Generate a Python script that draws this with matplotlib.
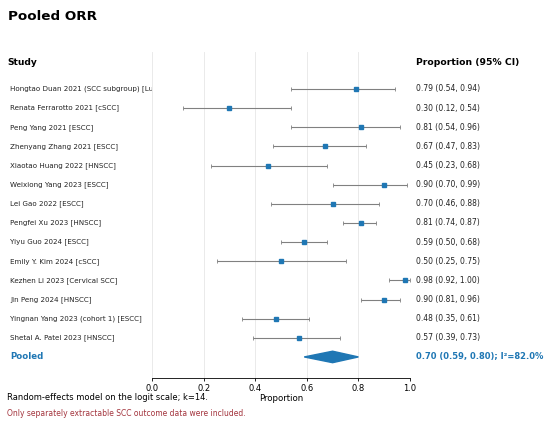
import matplotlib
matplotlib.use("Agg")
from matplotlib import pyplot as plt
from matplotlib.patches import Polygon

# study data
studies = [
    "Hongtao Duan 2021 (SCC subgroup) [Lung SCC]",
    "Renata Ferrarotto 2021 [cSCC]",
    "Peng Yang 2021 [ESCC]",
    "Zhenyang Zhang 2021 [ESCC]",
    "Xiaotao Huang 2022 [HNSCC]",
    "Weixiong Yang 2023 [ESCC]",
    "Lei Gao 2022 [ESCC]",
    "Pengfei Xu 2023 [HNSCC]",
    "Yiyu Guo 2024 [ESCC]",
    "Emily Y. Kim 2024 [cSCC]",
    "Kezhen Li 2023 [Cervical SCC]",
    "Jin Peng 2024 [HNSCC]",
    "Yingnan Yang 2023 (cohort 1) [ESCC]",
    "Shetal A. Patel 2023 [HNSCC]",
]
est = [0.79, 0.30, 0.81, 0.67, 0.45, 0.90, 0.70, 0.81, 0.59, 0.50, 0.98, 0.90, 0.48, 0.57]
lo = [0.54, 0.12, 0.54, 0.47, 0.23, 0.70, 0.46, 0.74, 0.50, 0.25, 0.92, 0.81, 0.35, 0.39]
hi = [0.94, 0.54, 0.96, 0.83, 0.68, 0.99, 0.88, 0.87, 0.68, 0.75, 1.00, 0.96, 0.61, 0.73]

pooled_est, pooled_lo, pooled_hi = 0.70, 0.59, 0.80
i2 = 82.0

blue = "#1f77b4"
W, H = 550, 426
fig = plt.figure(figsize=(5.5, 4.26), dpi=100)

ax_l, ax_r = 152 / W, 410 / W
ax_top, ax_bot = 1 - 52 / H, 1 - 378 / H
ax = fig.add_axes([ax_l, ax_bot, ax_r - ax_l, ax_top - ax_bot])
lab = fig.add_axes([0, ax_bot, ax_l, ax_top - ax_bot], sharey=ax)
lab.axis("off")

n = len(studies)
rows = list(range(n))
ax.set_ylim(15.1, -1.93)

# study rows
for i in rows:
    ax.errorbar(est[i], i, xerr=[[est[i] - lo[i]], [hi[i] - est[i]]],
                fmt="s", color=blue, ms=3.3, ecolor="#808080", elinewidth=0.8,
                capsize=1.5, capthick=0.6, zorder=3)
    lab.text(10 / 152, i, studies[i], va="center", ha="left", fontsize=5.1,
             color="#222222", clip_on=True)

# pooled diamond
py = n
d = 0.3
ax.add_patch(Polygon([[pooled_lo, py], [pooled_est, py - d], [pooled_hi, py], [pooled_est, py + d]],
                     closed=True, color=blue, zorder=3))

ax.set_xlim(0, 1)
ax.set_xticks([0.0, 0.2, 0.4, 0.6, 0.8, 1.0])
ax.tick_params(axis="x", labelsize=6, length=2, width=0.6, pad=2)
ax.set_yticks([])
ax.grid(axis="x", color="#e6e6e6", linewidth=0.6, zorder=0)
for s in ["top", "right", "left"]:
    ax.spines[s].set_visible(False)
ax.spines["bottom"].set_linewidth(0.6)
ax.set_xlabel("Proportion", fontsize=6.2, labelpad=1)

# right column
rx = (416 - 152) / (410 - 152)
for i in rows:
    ax.text(rx, i, f"{est[i]:.2f} ({lo[i]:.2f}, {hi[i]:.2f})",
            transform=ax.get_yaxis_transform(), va="center", ha="left",
            fontsize=5.5, color="#222222")
ax.text(rx, py, f"{pooled_est:.2f} ({pooled_lo:.2f}, {pooled_hi:.2f}); I²={i2:.1f}%",
        transform=ax.get_yaxis_transform(), va="center", ha="left",
        fontsize=6, color=blue, fontweight="bold")
ax.text(rx, -1.4, "Proportion (95% CI)", transform=ax.get_yaxis_transform(),
        va="center", ha="left", fontsize=6.7, fontweight="bold")

lab.text(7 / 152, -1.4, "Study", va="center", ha="left", fontsize=6.6, fontweight="bold")
lab.text(10 / 152, py, "Pooled", va="center", ha="left", fontsize=6.2,
         fontweight="bold", color=blue)

fig.text(8 / W, 1 - 17 / H, "Pooled ORR", fontsize=9.7, fontweight="bold", va="center")
fig.text(7 / W, 1 - 397 / H, "Random-effects model on the logit scale; k=14.",
         fontsize=6, va="center")
fig.text(7 / W, 1 - 414 / H, "Only separately extractable SCC outcome data were included.",
         fontsize=5.5, va="center", color="#a3343d")

fig.savefig("out.png", dpi=100)
